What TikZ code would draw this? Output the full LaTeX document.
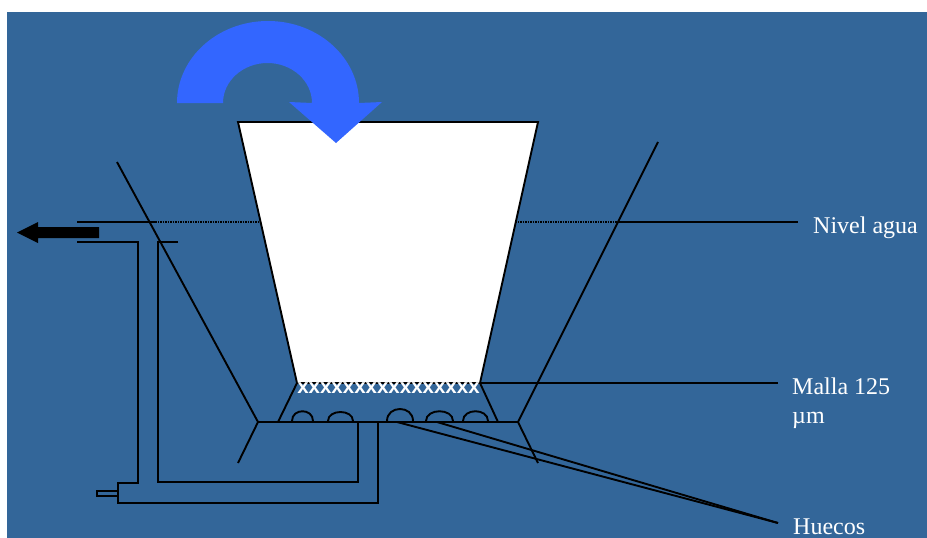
\documentclass[tikz,border=0pt]{standalone}
\usepackage{fontspec}
\setmainfont{Liberation Serif}
\setsansfont{Liberation Sans}
\definecolor{fondo}{RGB}{51,102,153}
\definecolor{giro}{RGB}{51,102,255}
\tikzset{
  linea/.style={line width=1.9pt},
  rotulo/.style={anchor=base west, inner sep=0pt, text=white, align=left,
    font=\fontsize{24}{29}\selectfont},
}

\begin{document}
\begin{tikzpicture}[x=1pt,y=-1pt]
    % fondo
    \fill[white] (0,0) rectangle (927,538);
    \fill[fondo] (7,12) rectangle (927,538);
    \useasboundingbox (0,0) rectangle (927,538);

    % nivel del agua
    \coordinate (agua) at (798,222);
    \draw[linea,dash pattern=on 1.5pt off 1pt] (155,222) -- (618,222);
    \draw[linea] (77,222) -- (155,222);
    \draw[linea] (618,222) -- (agua);

    % tamiz
    \coordinate (t1) at (238,122);
    \coordinate (t2) at (538,122);
    \coordinate (t3) at (480,383);
    \coordinate (t4) at (297,383);
    \filldraw[linea,fill=white] (t1) -- (t2) -- (t3) -- (t4) -- cycle;
    \node[inner sep=0pt,text=white,font=\sffamily\bfseries\fontsize{20.5}{20.5}\selectfont]
      (malla) at (388.5,388.5) {xxxxxxxxxxxxxxxx};
    \coordinate (b1) at (258,422);
    \coordinate (b2) at (518,422);
    \draw[linea] (t4) -- (278,422);
    \draw[linea] (t3) -- (498,422);
    \draw[linea] (b1) -- (b2);

    % flecha de giro
    \fill[giro] (177,103) arc[start angle=180,end angle=360,x radius=91,y radius=82]
      -- (382,102) -- (336,143) -- (289,102) -- (312,103)
      arc[start angle=0,end angle=-180,x radius=44.5,y radius=40] -- cycle;

    % huecos
    \foreach \a/\b/\c in {292/313/408, 328/353/409, 387/413/405, 426/453/408, 463/488/408}
      \draw[linea] (\a,421) .. controls (\a,\c) and (\b,\c) .. (\b,421);

    % paredes del tanque
    \draw[linea] (117,162) -- (b1) -- (238,463);
    \draw[linea] (658,142) -- (b2) -- (538,463);

    % tubo de salida
    \draw[linea] (77,242) -- (138,242) -- (138,483) -- (118,483) -- (118,503)
      -- (378,503) -- (378,422);
    \draw[linea] (178,242) -- (158,242) -- (158,482) -- (358,482) -- (358,422);
    \draw[linea] (118,491) -- (97,491) -- (97,496) -- (118,496);

    % salida de agua
    \fill (99,227) -- (38,227) -- (38,222) -- (17,232.5) -- (38,243) -- (38,238)
      -- (99,238) -- cycle;

    % rotulos
    \coordinate (m) at (778,383);
    \coordinate (h) at (778,523);
    \draw[linea] (t3) -- (m);
    \draw[linea] (397,422) -- (h);
    \draw[linea] (437,422) -- (h);
    \node[rotulo] (nivel) at (813,233) {Nivel agua};
    \node[rotulo] (tela) at (792,423) {Malla 125\\µm};
    \node[rotulo] (huecos) at (793,534) {Huecos};
  \end{tikzpicture}
\end{document}
